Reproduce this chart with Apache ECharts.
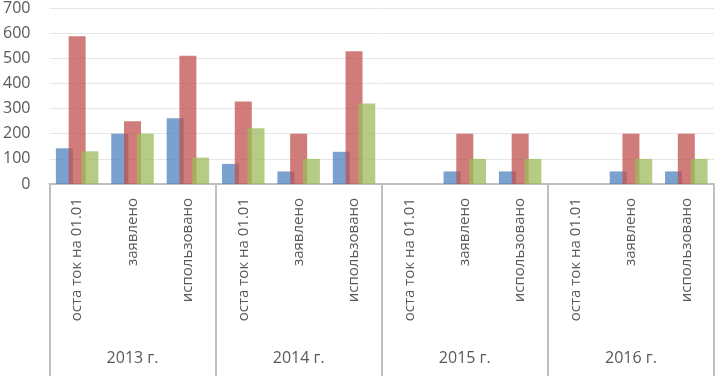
<!DOCTYPE html>
<html>
<head>
<meta charset="utf-8">
<script src="https://cdn.jsdelivr.net/npm/echarts@6/dist/echarts.min.js"></script>
<style>
html,body{margin:0;padding:0;background:#fff;}
#chart{width:717px;height:376px;}
</style>
</head>
<body>
<div id="chart"></div>
<script>
// подписи
var years = ['2013 г.', '2014 г.', '2015 г.', '2016 г.'];
var kinds = ['оста ток на 01.01', 'заявлено', 'использовано'];
var categories = [];
years.forEach(function(){ kinds.forEach(function(k){ categories.push(k); }); });

// значения трёх рядов
var blueVals  = [142, 200, 262,  80,  50, 128,  0,  50,  50,  0,  50,  50];
var redVals   = [588, 250, 510, 328, 200, 528,  0, 200, 200,  0, 200, 200];
var greenVals = [130, 200, 105, 222, 100, 320,  0, 100, 100,  0, 100, 100];

var textColor = '#595959';
var fontName = 'Open Sans';

var myChart = echarts.init(document.getElementById('chart'));
var option = {
    animation: false,
    backgroundColor: '#fff',
    grid: {left: 47, right: 3, top: 7, bottom: 192},
    xAxis: [
        {
            type: 'category',
            data: categories,
            position: 'bottom',
            axisLine: {lineStyle: {color: '#bfbfbf', width: 2}},
            axisTick: {show: false},
            axisLabel: {
                interval: 0,
                rotate: 90,
                margin: 14,
                color: textColor,
                fontFamily: fontName,
                fontSize: 15
            }
        },
        {
            type: 'category',
            data: years,
            position: 'bottom',
            axisLine: {show: false},
            axisTick: {show: true, length: 192, interval: 0, lineStyle: {color: '#bfbfbf', width: 2}},
            axisLabel: {
                interval: 0,
                margin: 166,
                color: textColor,
                fontFamily: fontName,
                fontSize: 16
            }
        }
    ],
    yAxis: {
        type: 'value',
        min: 0,
        max: 700,
        interval: 100,
        axisLine: {show: false},
        axisTick: {show: false},
        splitLine: {lineStyle: {color: '#e6e6e6', width: 1}},
        axisLabel: {
            margin: 19,
            color: textColor,
            fontFamily: fontName,
            fontSize: 16
        }
    },
    series: [
        {
            type: 'bar', data: blueVals, barWidth: 17, barGap: '-25%',
            itemStyle: {color: '#4F81BD', opacity: 0.75}
        },
        {
            type: 'bar', data: redVals, barWidth: 17, barGap: '-25%',
            itemStyle: {color: '#C0504D', opacity: 0.75}
        },
        {
            type: 'bar', data: greenVals, barWidth: 17, barGap: '-25%',
            itemStyle: {color: '#9BBB59', opacity: 0.75}
        }
    ]
};
myChart.setOption(option);
window.onresize = function () { myChart.resize(); };
</script>
</body>
</html>
